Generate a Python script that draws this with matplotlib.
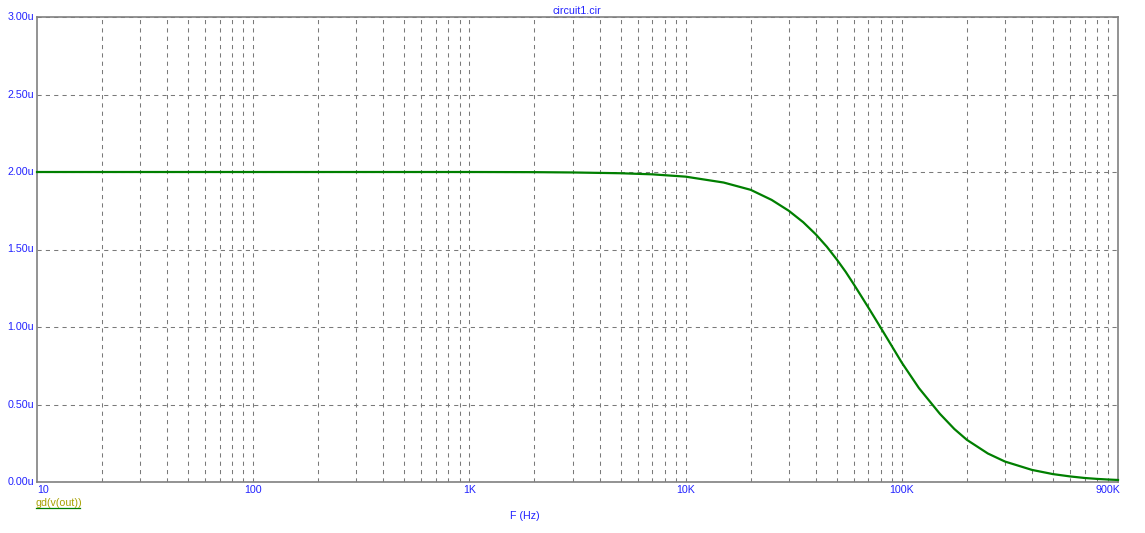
import matplotlib
matplotlib.use("Agg")
import matplotlib.pyplot as plt
from matplotlib.ticker import FixedLocator, NullFormatter

freq_hz = [10, 100, 1e3, 2e3, 3e3, 5e3, 7e3, 10e3, 15e3, 20e3, 25e3, 30e3, 35e3,
           40e3, 45e3, 50e3, 55e3, 60e3, 65e3, 70e3, 75e3, 80e3, 90e3, 100e3,
           120e3, 150e3, 175e3, 200e3, 250e3, 300e3, 400e3, 500e3, 600e3,
           700e3, 800e3, 900e3, 1e6]
gd_us = [2.000, 2.000, 2.000, 1.999, 1.997, 1.992, 1.985, 1.970, 1.932, 1.885,
         1.820, 1.750, 1.676, 1.598, 1.518, 1.436, 1.356, 1.275, 1.198, 1.126,
         1.058, 0.994, 0.876, 0.770, 0.606, 0.440, 0.342, 0.272, 0.184, 0.132,
         0.078, 0.051, 0.036, 0.026, 0.020, 0.016, 0.013]

y_ticks = [0.0, 0.5, 1.0, 1.5, 2.0, 2.5, 3.0]
y_labels = ["0.00u", "0.50u", "1.00u", "1.50u", "2.00u", "2.50u", "3.00u"]
x_label_pos = [10, 100, 1e3, 10e3, 100e3, 900e3]
x_label_txt = ["10", "100", "1K", "10K", "100K", "900K"]

W, H, DPI = 1145, 533, 100
fig = plt.figure(figsize=(W / DPI, H / DPI), dpi=DPI, facecolor="white")
plt.rcParams['font.family'] = ['Liberation Sans', 'DejaVu Sans']

left, right, top, bottom = 37, 1118, 17, 482
ax = fig.add_axes([left / W, 1 - bottom / H, (right - left) / W, (bottom - top) / H])
ax.set_facecolor("white")

blue = "#2222ff"
gray = "#808080"

ax.set_xscale("log")
ax.set_xlim(10, 1e6)
ax.set_ylim(0, 3.0)

grid_x = []
for d in range(1, 6):
    for m in range(1, 10):
        v = m * 10 ** d
        if 10 < v < 1e6:
            grid_x.append(v)
ax.xaxis.set_major_locator(FixedLocator(grid_x))
ax.xaxis.set_minor_locator(FixedLocator([]))
ax.xaxis.set_major_formatter(NullFormatter())
ax.xaxis.set_minor_formatter(NullFormatter())
ax.set_yticks(y_ticks)
ax.set_yticklabels([])
ax.tick_params(length=0)
ax.grid(True, which="major", color="#7a7a7a", linestyle=(0, (4, 4)), linewidth=0.75)

for s in ax.spines.values():
    s.set_color(gray)
    s.set_linewidth(1.2)

ax.plot(freq_hz, gd_us, color="#007f00", linewidth=1.6, zorder=3, clip_on=False)

trans_y = ax.get_yaxis_transform()
for v, t in zip(y_ticks, y_labels):
    ax.text(-0.0025, v, t, transform=trans_y, ha="right", va="center",
            color=blue, fontsize=7.7)

trans_x = ax.get_xaxis_transform()
for v, t in zip(x_label_pos, x_label_txt):
    ha = "left" if v == 10 else "center"
    ax.text(v, -0.017, t, transform=trans_x, ha=ha, va="center",
            color=blue, fontsize=7.7)

fig.text(577 / W, 1 - 11 / H, "circuit1.cir", ha="center", va="center",
         color=blue, fontsize=7.7)
fig.text(525 / W, 1 - 516 / H, "F (Hz)", ha="center", va="center",
         color=blue, fontsize=7.7)
fig.text(36 / W, 1 - 503 / H, "gd(v(out))", ha="left", va="center",
         color="#a8a000", fontsize=7.7)
fig.add_artist(plt.Line2D([36 / W, 80 / W], [1 - 508 / H, 1 - 508 / H],
                          color="#007f00", linewidth=0.9, transform=fig.transFigure))

fig.savefig("out.png", dpi=DPI, facecolor="white")
